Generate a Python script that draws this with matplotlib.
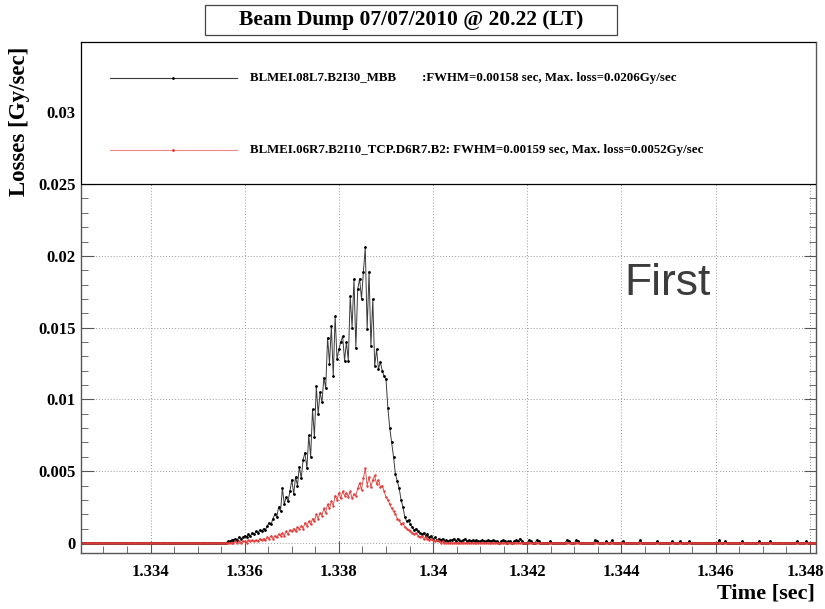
import matplotlib.pyplot as plt
import numpy as np
from matplotlib.patches import Rectangle
from matplotlib.ticker import MultipleLocator, FuncFormatter
from matplotlib.transforms import ScaledTranslation

plt.rcParams['font.family'] = ['Liberation Serif', 'DejaVu Serif']

# sampling of the BLM signal (40 us bins)
T_START = 1.33248
DT = 0.00004
N_PRE = 78      # bins before the loss, all zero
N_TAIL = 194    # bins after the main peak

black_peak = [
    0.0000, 0.0001, 0.0001, 0.0002, 0.0002, 0.0003, 0.0002, 0.0004, 0.0003, 0.0004,
    0.0005, 0.0004, 0.0006, 0.0005, 0.0007, 0.0006, 0.0008, 0.0007, 0.0009, 0.0008,
    0.0010, 0.0009, 0.0012, 0.0014, 0.0013, 0.0017, 0.0020, 0.0018, 0.0025, 0.0022,
    0.0038, 0.0027, 0.0032, 0.0029, 0.0036, 0.0044, 0.0034, 0.0046, 0.0040, 0.0053,
    0.0045, 0.0058, 0.0063, 0.0052, 0.0075, 0.0060, 0.0093, 0.0074, 0.0109, 0.0090,
    0.0105, 0.0098, 0.0115, 0.0108, 0.0143, 0.0125, 0.0151, 0.0116, 0.0158, 0.0128,
    0.0135, 0.0140, 0.0144, 0.0127, 0.0140, 0.0127, 0.0172, 0.0150, 0.0184, 0.0136,
    0.0177, 0.0184, 0.0170, 0.0189, 0.0206, 0.0149, 0.0189, 0.0137, 0.0170, 0.0123,
    0.0135, 0.0121, 0.0126, 0.0120, 0.0116, 0.0114, 0.0094, 0.0080, 0.0070, 0.0060,
    0.0048, 0.0043, 0.0038, 0.0030, 0.0025, 0.0018, 0.0015, 0.0016, 0.0013, 0.0011,
    0.0009, 0.0010, 0.0008, 0.0007, 0.0006, 0.0007, 0.0005, 0.0006, 0.0004, 0.0005,
    0.0003, 0.0004, 0.0002, 0.0003, 0.0002, 0.0003, 0.0001, 0.0002, 0.0001, 0.0002,
]

red_peak = [
    0, 0, 0, 0, 0, 0.0001, 0, 0.0001, 0, 0.0001,
    0.0001, 0, 0.0002, 0.0001, 0.0002, 0.0001, 0.0002, 0.0001, 0.0003, 0.0002,
    0.0003, 0.0002, 0.0004, 0.0003, 0.0005, 0.0003, 0.0005, 0.0004, 0.0006, 0.0005,
    0.0007, 0.0005, 0.0008, 0.0006, 0.0009, 0.0008, 0.0010, 0.0008, 0.0011, 0.0010,
    0.0012, 0.0010, 0.0014, 0.0012, 0.0015, 0.0013, 0.0017, 0.0015, 0.0020, 0.0017,
    0.0021, 0.0019, 0.0024, 0.0021, 0.0027, 0.0024, 0.0029, 0.0026, 0.0033, 0.0030,
    0.0035, 0.0031, 0.0036, 0.0033, 0.0035, 0.0032, 0.0036, 0.0031, 0.0034, 0.0033,
    0.0038, 0.0042, 0.0037, 0.0045, 0.0052, 0.0040, 0.0046, 0.0039, 0.0044, 0.0047,
    0.0041, 0.0044, 0.0039, 0.0040, 0.0036, 0.0032, 0.0030, 0.0027, 0.0024, 0.0022,
    0.0020, 0.0017, 0.0016, 0.0013, 0.0014, 0.0011, 0.0010, 0.0009, 0.0008, 0.0007,
    0.0006, 0.0007, 0.0005, 0.0004, 0.0005, 0.0003, 0.0004, 0.0003, 0.0002, 0.0003,
    0.0002, 0.0001, 0.0002, 0.0001, 0, 0.0001, 0, 0, 0, 0,
]

black_tail = [
    0.0002, 0.0003, 0.0001, 0.0003, 0.0002, 0.0001, 0.0002, 0.0003, 0.0001, 0.0002,
    0.0001, 0.0002, 0.0001, 0.0002, 0.0001, 0.0001, 0.0002, 0.0001, 0.0001, 0.0002,
    0.0001, 0.0001, 0.0002, 0.0001, 0.0001, 0, 0.0001, 0.0002, 0.0001, 0,
    0.0001, 0.0001, 0, 0.0001, 0.0002, 0.0001, 0.0003, 0.0001, 0, 0,
    0, 0.0002, 0.0001, 0, 0, 0.0002, 0.0001, 0, 0, 0,
    0, 0, 0.0001, 0, 0, 0, 0, 0, 0, 0,
    0, 0.0002, 0.0001, 0, 0, 0, 0.0002, 0.0001, 0, 0,
    0, 0, 0, 0, 0, 0, 0.0002, 0.0001, 0, 0,
    0, 0, 0.0001, 0, 0, 0.0002, 0, 0, 0, 0,
    0, 0.0001, 0, 0, 0, 0, 0, 0, 0, 0,
    0.0002, 0, 0, 0, 0, 0, 0, 0, 0, 0.0001,
    0, 0, 0, 0, 0, 0, 0, 0.0001, 0, 0,
    0, 0.0001, 0, 0, 0, 0, 0.0001, 0, 0, 0,
    0, 0, 0, 0, 0, 0, 0, 0, 0, 0,
    0, 0, 0.0002, 0, 0, 0.0001, 0, 0, 0, 0,
    0, 0, 0, 0, 0.0001, 0, 0, 0, 0, 0,
    0, 0, 0, 0.0001, 0, 0, 0, 0, 0, 0.0001,
    0, 0, 0, 0, 0, 0, 0, 0, 0, 0,
    0, 0, 0, 0.0001, 0, 0, 0, 0, 0.0001, 0,
    0, 0, 0, 0,
]

labels = [
    "BLMEI.08L7.B2I30_MBB        :FWHM=0.00158 sec, Max. loss=0.0206Gy/sec",
    "BLMEI.06R7.B2I10_TCP.D6R7.B2: FWHM=0.00159 sec, Max. loss=0.0052Gy/sec",
]
title = "Beam Dump 07/07/2010 @ 20.22 (LT)"

black = np.concatenate([np.zeros(N_PRE), black_peak, black_tail])
red = np.concatenate([np.zeros(N_PRE), red_peak, np.zeros(N_TAIL)])
t = T_START + DT * np.arange(len(black))

RED = '#e33b38'

fig = plt.figure(figsize=(8.25, 6.09), dpi=100)
ax = fig.add_axes([0.098, 0.092, 0.891, 0.839])

l1, = ax.plot(t, black, color='#3a3a3a', lw=0.7, marker='.', ms=2.0,
              mfc='black', mec='black', zorder=2)
l2, = ax.plot(t, red, color=RED, lw=0.6, marker='.', ms=1.6, zorder=2.5)

ax.set_xlim(1.33252, 1.34813)
ax.set_ylim(-0.0007, 0.0349)

ax.xaxis.set_major_locator(MultipleLocator(0.002))
ax.xaxis.set_minor_locator(MultipleLocator(0.0005))
ax.yaxis.set_major_locator(MultipleLocator(0.005))
ax.yaxis.set_minor_locator(MultipleLocator(0.001))

def fmt(v, pos):
    s = ('%.4f' % v).rstrip('0').rstrip('.')
    return s if s not in ('-0', '') else '0'

ax.xaxis.set_major_formatter(FuncFormatter(fmt))
ax.yaxis.set_major_formatter(FuncFormatter(fmt))

ax.tick_params(axis='both', which='both', direction='in', right=True, top=False,
               color='#555555')
ax.tick_params(which='major', length=9, labelsize=12)
ax.tick_params(which='minor', length=5)
ax.tick_params(axis='x', pad=8)

fig.canvas.draw()
for lab in ax.get_xticklabels() + ax.get_yticklabels():
    lab.set_fontweight('bold')
    if lab.get_text() == '1.348':
        # keep the last label inside the canvas
        lab.set_transform(lab.get_transform() +
                          ScaledTranslation(-4 / 100, 0, fig.dpi_scale_trans))

for s in ax.spines.values():
    s.set_color('#555555')
    s.set_linewidth(1.0)

ax.grid(True, which='major', color='#9a9a9a', lw=0.7, linestyle=(0, (1, 2)))

# legend box on the upper part of the frame
ylo, yhi = ax.get_ylim()
yfrac = (0.025 - ylo) / (yhi - ylo)
ax.add_patch(Rectangle((0, yfrac), 1, 1 - yfrac, transform=ax.transAxes,
                       facecolor='white', edgecolor='black', lw=0.9, zorder=5))
for line, lab, yy in zip([l1, l2], labels, [0.9295, 0.7886]):
    ax.plot([0.039, 0.212], [yy, yy], transform=ax.transAxes, color=line.get_color(),
            lw=0.8, zorder=6, alpha=0.6 if line is l2 else 1)
    ax.plot([0.1255], [yy], transform=ax.transAxes, color=line.get_mec(),
            marker='.', ms=2.0, zorder=6)
    ax.text(0.23, yy, lab, transform=ax.transAxes, fontsize=9.3, fontweight='bold',
            va='center', ha='left', zorder=6)

ax.text(0.740, 0.505, "First", transform=ax.transAxes, fontsize=32,
        family='Liberation Sans', color='#3c3c3c', ha='left', va='baseline')

ax.set_ylabel("Losses [Gy/sec]", fontsize=16.5, fontweight='bold')
ax.yaxis.set_label_coords(-0.069, 0.844)
fig.text(0.988, 0.026, "Time [sec]", fontsize=16, fontweight='bold',
         ha='right', va='center')

# title box
fig.patches.append(Rectangle((205 / 825, 1 - 35 / 609), 412 / 825, 30 / 609,
                             transform=fig.transFigure, facecolor='white',
                             edgecolor='#444444', lw=0.9))
fig.text(411 / 825, 1 - 20 / 609, title, fontsize=15.5, fontweight='bold',
         ha='center', va='center')

fig.savefig('out.png', dpi=100)
